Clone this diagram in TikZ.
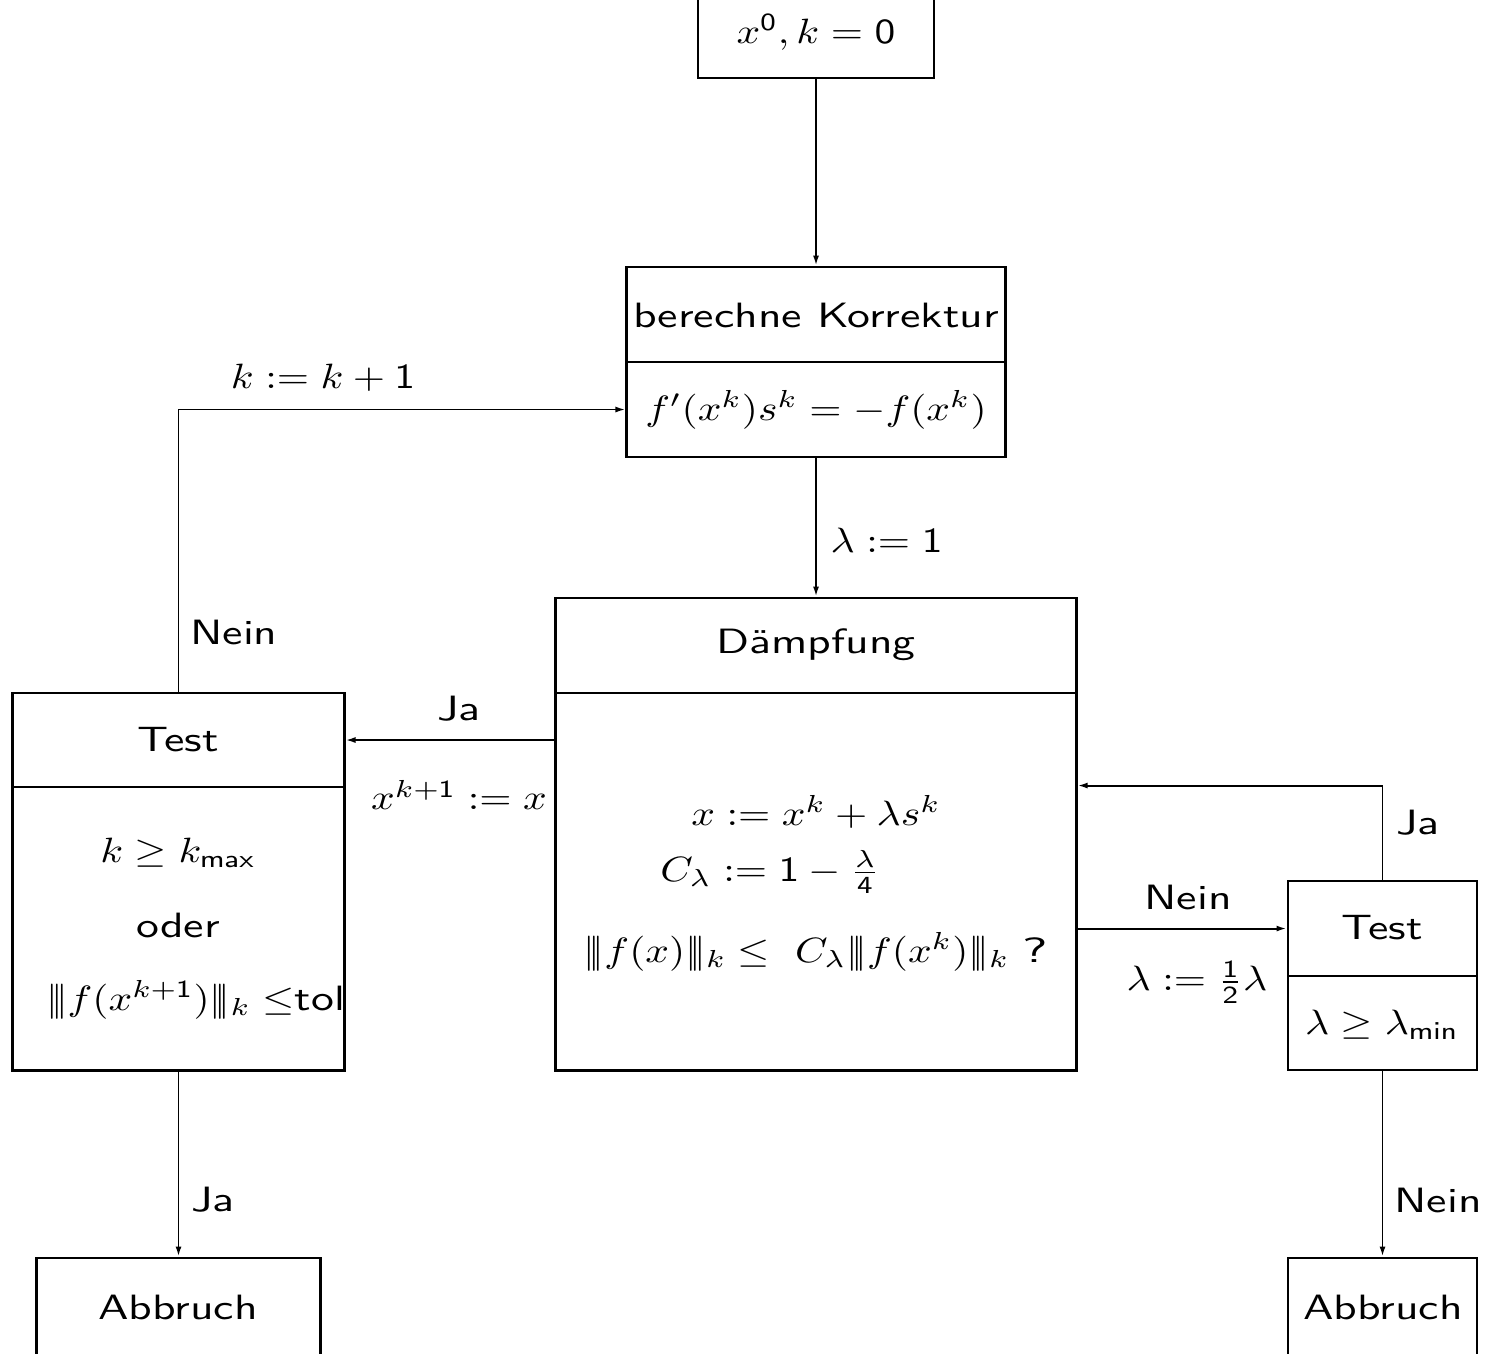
\documentclass[tikz,border=0pt]{standalone}
\usepackage{graphicx}
\usetikzlibrary{arrows.meta}
\newcommand\sx[1]{\scalebox{1.3}[1]{\fontsize{10}{12}\selectfont #1}}
\newcommand\mx[1]{\scalebox{1.18}[1]{#1}}
\newcommand\tn{\vert\!\vert\!\vert}
\newcommand\sd[1]{\mathsf{#1}}
\tikzset{
  bx/.style={draw, line width=0.8pt, inner sep=0pt, rectangle},
  lbl/.style={inner sep=0pt, font=\fontsize{9.6}{11}\selectfont\sffamily},
  arr/.style={line width=0.55pt, -{Latex[length=1mm,width=0.6mm]}},
}
\begin{document}
\begin{tikzpicture}[x=0.01cm,y=-0.01cm]
\useasboundingbox (0,0) rectangle (1489,1353);
\clip (0,0) rectangle (1489,1353);
% boxes
\node[bx, minimum width=2.36cm, minimum height=0.98cm] (start) at (816,29) {};
\node[bx, minimum width=3.78cm, minimum height=0.95cm] (korrA) at (816,314.5) {};
\node[bx, minimum width=3.78cm, minimum height=0.95cm] (korrB) at (816,409.5) {};
\node[bx, minimum width=5.20cm, minimum height=0.95cm] (dampA) at (816,645.5) {};
\node[bx, minimum width=5.20cm, minimum height=3.77cm] (dampB) at (816,881.5) {};
\node[bx, minimum width=3.31cm, minimum height=0.94cm] (testLA) at (178.5,740) {};
\node[bx, minimum width=3.31cm, minimum height=2.83cm] (testLB) at (178.5,928.5) {};
\node[bx, minimum width=1.89cm, minimum height=0.95cm] (testRA) at (1382.5,928.5) {};
\node[bx, minimum width=1.89cm, minimum height=0.94cm] (testRB) at (1382.5,1023) {};
\node[bx, minimum width=2.84cm, minimum height=1.42cm] (abbL) at (178.5,1329) {};
\node[bx, minimum width=1.89cm, minimum height=1.42cm] (abbR) at (1382.5,1329) {};
% box texts
\node[lbl] (tStart) at (816,32) {\mx{$x^{\sd{0}}, k = \sd{0}$}};
\node[lbl] (tKorrA) at (816,315) {\sx{berechne Korrektur}};
\node[lbl] (tKorrB) at (816,410) {\mx{$f'(x^k)s^k = -f(x^k)$}};
\node[lbl] (tDampA) at (816,645) {\sx{Dämpfung}};
\node[lbl] (tDamp1) at (816,812) {\mx{$x := x^k + \lambda s^k$}};
\node[lbl] (tDamp2) at (770,872) {\mx{$C_\lambda := \sd{1} - \frac{\lambda}{\sd{4}}$}};
\node[lbl] (tDamp3) at (816,952) {\mx{$\tn f(x)\tn_k \leq\ C_\lambda \tn f(x^k)\tn_k$ \sx{?}}};
\node[lbl] (tTestLA) at (178,740) {\sx{Test}};
\node[lbl] (tTestL1) at (178,853) {\mx{$k \geq k_{\sd{max}}$}};
\node[lbl] (tTestL2) at (178,925) {\sx{oder}};
\node[lbl] (tTestL3) at (196,1000) {\mx{$\tn f(x^{k+\sd{1}})\tn_k \leq$}\sx{tol}};
\node[lbl] (tTestRA) at (1382,928) {\sx{Test}};
\node[lbl] (tTestRB) at (1382,1025) {\mx{$\lambda \geq \lambda_{\sd{min}}$}};
\node[lbl] (tAbbL) at (178,1307) {\sx{Abbruch}};
\node[lbl] (tAbbR) at (1383,1307) {\sx{Abbruch}};
% connectors
\draw[arr] (start.south) -- (korrA.north);
\draw[arr] (korrB.south) -- (dampA.north);
\draw[arr] (dampB.west |- testLA.east) -- (testLA.east);
\draw[arr] (testLA.north) |- (korrB.west);
\draw[arr] (testLB.south) -- (abbL.north);
\draw[arr] (dampB.east |- testRA.west) -- (testRA.west);
\draw[arr] (testRA.north) |- (dampB.east |- testLB.north);
\draw[arr] (testRB.south) -- (abbR.north);
% connector labels
\node[lbl, anchor=west] (lLam) at (830,540) {\mx{$\lambda := \sd{1}$}};
\node[lbl] (lJa1) at (459,709) {\sx{Ja}};
\node[lbl] (lXk) at (459,795) {\mx{$x^{k+\sd{1}} := x$}};
\node[lbl] (lNein1) at (234,632) {\sx{Nein}};
\node[lbl] (lK) at (323,378) {\mx{$k := k + \sd{1}$}};
\node[lbl] (lJa2) at (213,1200) {\sx{Ja}};
\node[lbl] (lNein2) at (1188,897) {\sx{Nein}};
\node[lbl] (lHalf) at (1197,982) {\mx{$\lambda := \frac{\sd{1}}{\sd{2}}\lambda$}};
\node[lbl] (lJa3) at (1418,823) {\sx{Ja}};
\node[lbl] (lNein3) at (1438,1200) {\sx{Nein}};
\end{tikzpicture}
\end{document}
